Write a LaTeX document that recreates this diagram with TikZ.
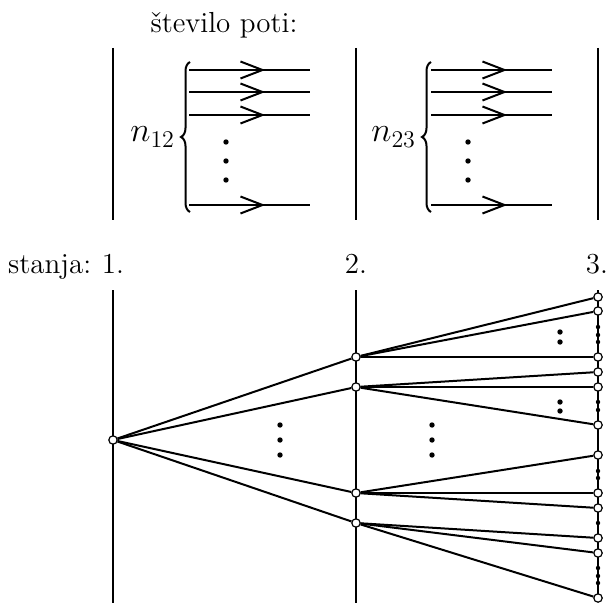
\documentclass[tikz,border=0pt]{standalone}
\usepackage{tikz}
\usetikzlibrary{arrows.meta, positioning, decorations.markings, decorations.pathreplacing}

\begin{document}
\begin{tikzpicture}[
    x=0.5pt, y=-0.5pt,
    oznaka/.style={font=\fontsize{14.5}{17}\selectfont, inner sep=0pt},
    veliko/.style={font=\fontsize{17}{20}\selectfont, inner sep=0pt},
    crta/.style={line width=1pt},
    pot/.style={line width=1pt, postaction={decorate},
      decoration={markings, mark=at position 0.63 with
        {\arrow{Straight Barb[length=11pt, width=8.5pt, line width=1pt]}}}},
    zavit/.style={decorate, decoration={brace, amplitude=4.5pt}, line width=1pt},
    stanje/.style={circle, draw, line width=0.6pt, fill=white,
      inner sep=0pt, minimum size=4.2pt},
    pika/.style={circle, fill, inner sep=0pt, minimum size=2.7pt},
    pikica/.style={circle, fill, inner sep=0pt, minimum size=2.2pt}
]
\useasboundingbox (0,0) rectangle (609,604);

% stevilo poti
\node[oznaka, anchor=base] (naslov) at (224,33) {število poti:};
\foreach \x in {113,356,598}
  \draw[crta] (\x,48) -- (\x,220);
\foreach \y in {70,92,115,205} {
  \draw[pot] (189,\y) -- (310,\y);
  \draw[pot] (431,\y) -- (552,\y);
}
\draw[zavit] (190,212) -- (190,62) node[midway, left=7pt, veliko] (n12) {$n_{12}$};
\draw[zavit] (431,212) -- (431,62) node[midway, left=7pt, veliko] (n23) {$n_{23}$};
\foreach \y in {142,161,180} {
  \node[pika] at (226,\y) {};
  \node[pika] at (468,\y) {};
}

% stanja
\node[oznaka, anchor=base] (st1) at (113,273) {1.};
\node[oznaka, base left=5pt of st1] (stanja) {stanja:};
\node[oznaka, anchor=base] (st2) at (356,273) {2.};
\node[oznaka, anchor=base] (st3) at (597,273) {3.};

\draw[crta] (113,290) -- (113,603);
\draw[crta] (356,290) -- (356,603);
\draw[crta] (598,290) -- (598,600);

\node[stanje] (s1) at (113,440) {};
\node[stanje] (s2a) at (356,357) {};
\node[stanje] (s2b) at (356,387) {};
\node[stanje] (s2c) at (356,493) {};
\node[stanje] (s2d) at (356,523) {};
\foreach \i/\y in {1/297,2/311,3/357,4/372,5/387,6/425,7/455,8/493,9/508,10/538,11/553,12/598}
  \node[stanje] (s3-\i) at (598,\y) {};

\foreach \t in {s2a,s2b,s2c,s2d}
  \draw[crta] (s1) -- (\t);
\foreach \i in {1,2,3}
  \draw[crta] (s2a) -- (s3-\i);
\foreach \i in {4,5,6}
  \draw[crta] (s2b) -- (s3-\i);
\foreach \i in {7,8,9}
  \draw[crta] (s2c) -- (s3-\i);
\foreach \i in {10,11,12}
  \draw[crta] (s2d) -- (s3-\i);

% tri pike
\foreach \y in {425,440,455} {
  \node[pika] at (280,\y) {};
  \node[pika] at (432,\y) {};
}
\foreach \y in {332,342,402,411}
  \node[pika] at (560,\y) {};
\foreach \y in {327,335,342,402,410,471,478,523,568,576,583}
  \node[pikica] at (598,\y) {};
\end{tikzpicture}
\end{document}
